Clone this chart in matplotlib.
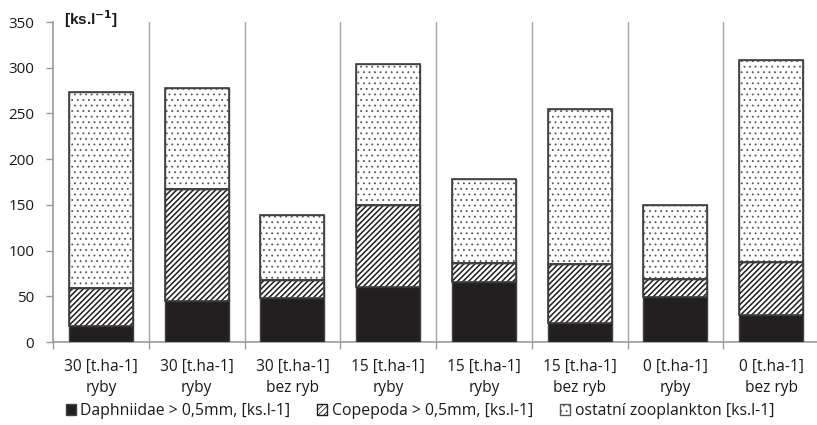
import matplotlib
matplotlib.use("Agg")
import matplotlib.pyplot as plt
import numpy as np

categories = ["30 [t.ha-1]\nryby", "30 [t.ha-1]\nryby", "30 [t.ha-1]\nbez ryb",
              "15 [t.ha-1]\nryby", "15 [t.ha-1]\nryby", "15 [t.ha-1]\nbez ryb",
              "0 [t.ha-1]\nryby", "0 [t.ha-1]\nbez ryb"]
daphniidae = [18, 45, 48, 60, 66, 21, 49, 29]
copepoda = [41, 122, 20, 90, 20, 64, 20, 58]
ostatni = [214, 111, 71, 154, 92, 170, 81, 221]
series_names = ["Daphniidae > 0,5mm, [ks.l-1]",
                "Copepoda > 0,5mm, [ks.l-1]",
                "ostatní zooplankton [ks.l-1]"]
yticks = [0, 50, 100, 150, 200, 250, 300, 350]

plt.rcParams["font.family"] = ["Open Sans", "DejaVu Sans"]


def set_hatch_lw(container, lw):
    for p in container.patches:
        if hasattr(p, "set_hatch_linewidth"):
            p.set_hatch_linewidth(lw)


fig = plt.figure(figsize=(8.17, 4.25), dpi=100)
ax = fig.add_axes([53 / 817, 83 / 425, 766 / 817, 320 / 425])

x = np.arange(len(categories))
w = 0.67
edge = "#404040"
text_col = "#1a1a1a"

b1 = ax.bar(x, daphniidae, w, color="#231f20", edgecolor=edge, linewidth=1.0,
            label=series_names[0], zorder=3)
bottom2 = np.array(daphniidae)
plt.rcParams["hatch.linewidth"] = 1.1
b2 = ax.bar(x, copepoda, w, bottom=bottom2, color="white", edgecolor="#1e1e1e",
            hatch="//////", linewidth=1.0, label=series_names[1], zorder=3)
set_hatch_lw(b2, 1.1)
bottom3 = bottom2 + np.array(copepoda)
plt.rcParams["hatch.linewidth"] = 0.6
b3 = ax.bar(x, ostatni, w, bottom=bottom3, color="white", edgecolor="#555555",
            hatch="...", linewidth=1.0, label=series_names[2], zorder=3)
set_hatch_lw(b3, 0.6)
# darker outlines on top of the hatched segments
for vals, bots in ((copepoda, bottom2), (ostatni, bottom3)):
    ax.bar(x, vals, w, bottom=bots, fill=False, edgecolor=edge, linewidth=1.2, zorder=4)

ax.set_xlim(-0.5, len(categories) - 0.5)
ax.set_ylim(0, 350)
ax.set_yticks(yticks)
ax.set_yticklabels([str(t) for t in yticks], fontsize=11, color=text_col)
ax.set_xticks(x)
ax.set_xticklabels(categories, fontsize=11.2, color=text_col, linespacing=1.42)
ax.tick_params(axis="x", length=0, pad=12)
ax.tick_params(axis="y", length=5, color="#999999", width=1, pad=8.5)

# category separators and x ticks at the boundaries
bounds = np.arange(len(categories) + 1) - 0.5
for bx in bounds[1:-1]:
    ax.axvline(bx, color="#a6a6a6", linewidth=1.0, zorder=1)
ax.set_xticks(bounds, minor=True)
ax.tick_params(axis="x", which="minor", length=5, color="#999999", width=1)

for s in ("top", "right"):
    ax.spines[s].set_visible(False)
for s in ("left", "bottom"):
    ax.spines[s].set_color("#999999")
    ax.spines[s].set_linewidth(1.2)

fig.text(64 / 817, 1 - 19 / 425, r"[ks.l$^{\mathbf{-1}}$]", fontsize=11,
         fontweight="bold", va="center", ha="left", family=["Liberation Sans"],
         color=text_col)

leg = fig.legend(handles=[b1, b2, b3], labels=series_names, loc="center",
                 bbox_to_anchor=(420 / 817, 1 - 411 / 425), ncol=3, frameon=False,
                 fontsize=11.3, handlelength=0.65, handleheight=0.65,
                 handletextpad=0.3, columnspacing=1.7)
for t in leg.get_texts():
    t.set_color(text_col)

fig.savefig("out.png", dpi=100)
